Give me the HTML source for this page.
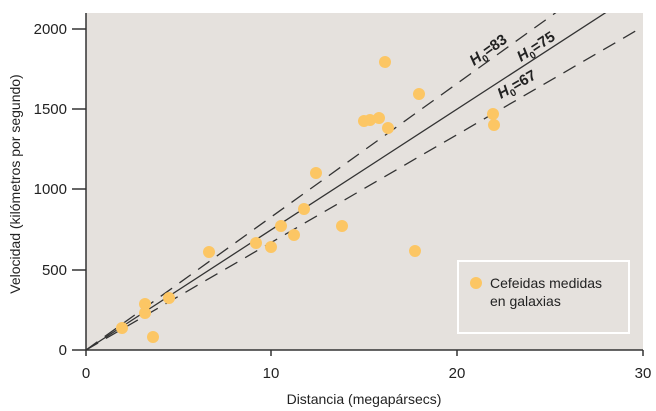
<!DOCTYPE html>
<html><head><meta charset="utf-8"><style>body{margin:0;background:#fff}svg{display:block}text{font-family:"Liberation Sans",sans-serif;fill:#222}</style></head><body>
<svg width="656" height="411" viewBox="0 0 656 411">
<rect x="86" y="13" width="557" height="337" fill="#e5e1dd"/>
<defs><clipPath id="c"><rect x="86" y="13" width="557" height="337"/></clipPath></defs>
<g clip-path="url(#c)" stroke="#333" stroke-width="1.3" fill="none">
<line x1="86" y1="350" x2="643" y2="-11.6"/>
<line x1="86" y1="350" x2="643" y2="-50" stroke-dasharray="14,9"/>
<line x1="86" y1="350" x2="643" y2="26.7" stroke-dasharray="14,9"/>
</g>
<g fill="#fcc664">
<circle cx="122" cy="328" r="6"/><circle cx="145" cy="304" r="6"/><circle cx="145" cy="313" r="6"/><circle cx="153" cy="337" r="6"/><circle cx="169" cy="298" r="6"/><circle cx="209" cy="252" r="6"/><circle cx="256" cy="243" r="6"/><circle cx="271" cy="247" r="6"/><circle cx="281" cy="226" r="6"/><circle cx="294" cy="235" r="6"/><circle cx="304" cy="209" r="6"/><circle cx="316" cy="173" r="6"/><circle cx="342" cy="226" r="6"/><circle cx="364" cy="121" r="6"/><circle cx="370" cy="120" r="6"/><circle cx="379" cy="118" r="6"/><circle cx="385" cy="62" r="6"/><circle cx="388" cy="128" r="6"/><circle cx="415" cy="251" r="6"/><circle cx="419" cy="94" r="6"/><circle cx="493" cy="114" r="6"/><circle cx="494" cy="125" r="6"/>
</g>
<g stroke="#333" stroke-width="1.5">
<line x1="86" y1="13" x2="86" y2="356"/><line x1="72" y1="350" x2="643" y2="350"/>
<line x1="72" y1="29" x2="86" y2="29"/><line x1="72" y1="109" x2="86" y2="109"/><line x1="72" y1="189" x2="86" y2="189"/><line x1="72" y1="270" x2="86" y2="270"/>
<line x1="271" y1="350" x2="271" y2="356"/><line x1="457" y1="350" x2="457" y2="356"/><line x1="643" y1="350" x2="643" y2="356"/>
</g>
<g font-size="15" text-anchor="end">
<text x="67" y="34">2000</text><text x="67" y="114">1500</text><text x="67" y="194">1000</text><text x="67" y="275">500</text><text x="67" y="355">0</text>
</g>
<g font-size="15" text-anchor="middle">
<text x="86" y="378">0</text><text x="271" y="378">10</text><text x="457" y="378">20</text><text x="643" y="378">30</text>
<text x="364" y="404" font-size="14">Distancia (megapársecs)</text>
<text transform="translate(20,184) rotate(-90)" font-size="14">Velocidad (kilómetros por segundo)</text>
</g>
<g font-size="15" font-weight="bold" fill="#222">
<text transform="translate(474,66) rotate(-35.7)"><tspan font-style="italic">H</tspan><tspan font-size="10" dy="4">0</tspan><tspan dy="-4">=83</tspan></text>
<text transform="translate(521,62) rotate(-33)"><tspan font-style="italic">H</tspan><tspan font-size="10" dy="4">0</tspan><tspan dy="-4">=75</tspan></text>
<text transform="translate(501,99) rotate(-30)"><tspan font-style="italic">H</tspan><tspan font-size="10" dy="4">0</tspan><tspan dy="-4">=67</tspan></text>
</g>
<rect x="458" y="261" width="171" height="72" fill="none" stroke="#fff" stroke-width="2"/>
<circle cx="476" cy="283" r="6" fill="#fcc664"/>
<text x="490" y="288" font-size="14">Cefeidas medidas</text>
<text x="490" y="306" font-size="14">en galaxias</text>
</svg>
</body></html>
